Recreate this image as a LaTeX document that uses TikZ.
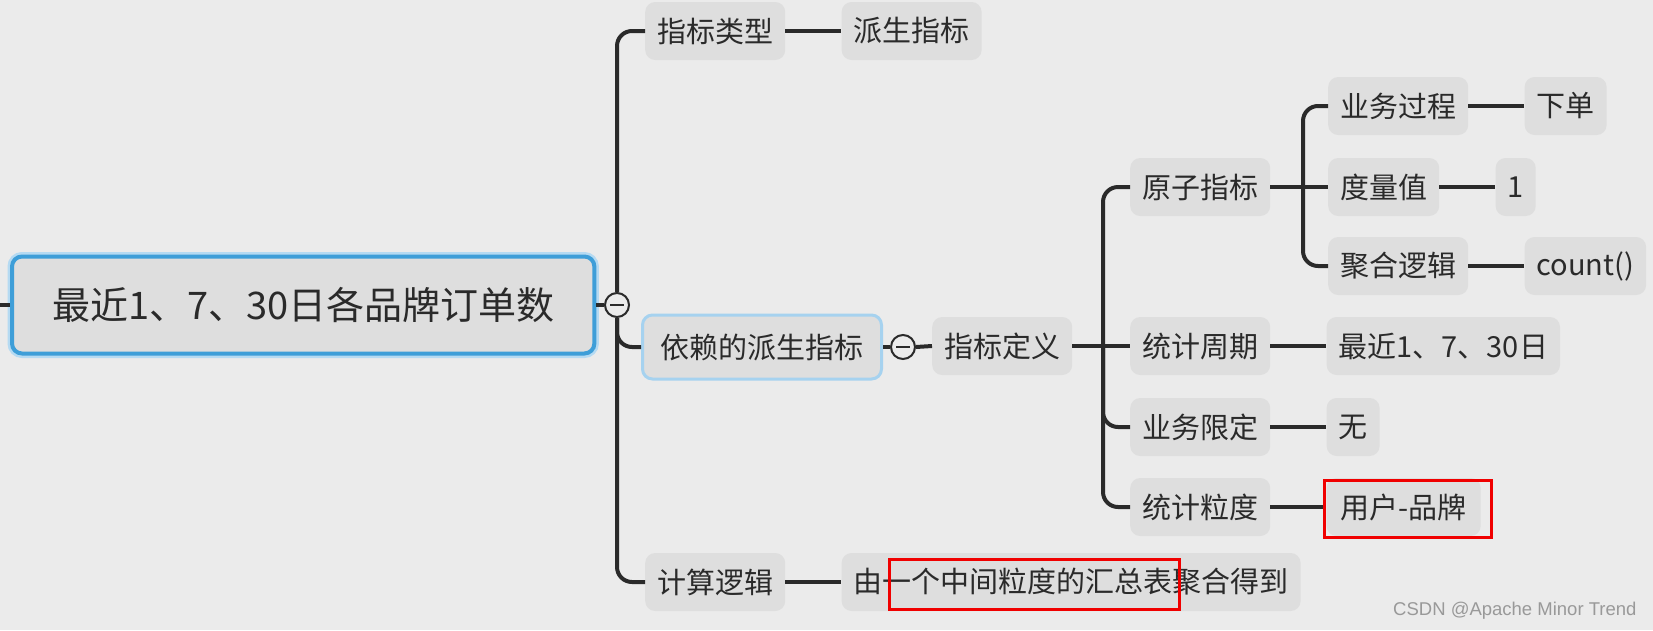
\documentclass[tikz,border=0pt]{standalone}
\usepackage{fontspec}
\newfontfamily\cjk{Noto Sans CJK SC}
\setsansfont{Liberation Sans}
\usetikzlibrary{positioning}
\definecolor{bggray}{HTML}{EBEBEB}
\definecolor{boxgray}{HTML}{DEDEDE}
\definecolor{ink}{HTML}{2A2A2A}
\definecolor{selblue}{HTML}{3E9ED8}
\definecolor{glowblue}{HTML}{B5DAF2}
\definecolor{paleblue}{HTML}{A6D2EF}
\definecolor{markred}{HTML}{F00000}
\begin{document}
\begin{tikzpicture}[x=1pt,y=-1pt,
    topic/.style={fill=boxgray, rounded corners=10pt, text=ink, anchor=west,
        font=\cjk\fontsize{29}{29}\selectfont, minimum height=58pt, inner xsep=12pt},
    branch/.style={line width=4pt, draw=ink, rounded corners=15pt},
    fold/.style={circle, draw=ink, line width=2pt, fill=bggray, minimum size=24pt, inner sep=0pt},
    node distance=56pt]
    \fill[bggray] (0,0) rectangle (1653,630);
    \useasboundingbox (0,0) rectangle (1653,630);

    % root topic
    \node[topic, font=\cjk\fontsize{38}{38}\selectfont, minimum height=97pt, inner xsep=40pt,
        draw=selblue, line width=4pt, preaction={draw=glowblue, line width=9pt}]
        (root) at (10,305) {最近1、7、30日各品牌订单数};
    \coordinate (stub) at (0,305);
    \draw[line width=4pt, ink] (stub) -- (root.west);

    \node[fold] (f1) at (617,305) {};
    \draw[line width=2pt, ink] ([xshift=-7pt]f1.center) -- ([xshift=7pt]f1.center);
    \draw[line width=4pt, ink] (root.east) -- (f1.west);

    % first level
    \node[topic] (kind) at (645,31) {指标类型};
    \node[topic, right=of kind] (kindv) {派生指标};
    \node[topic, draw=paleblue, line width=3pt, minimum height=64pt, inner xsep=18pt]
        (dep) at (641,347) {依赖的派生指标};
    \node[topic] (calc) at (645,582) {计算逻辑};
    \node[topic, right=of calc] (calcv) {由一个中间粒度的汇总表聚合得到};

    \draw[branch] (f1.north) |- (kind.west);
    \draw[branch] (f1.south) |- (dep.west);
    \draw[branch] (f1.south) |- (calc.west);
    \draw[line width=4pt, ink] (kind.east) -- (kindv.west);
    \draw[line width=4pt, ink] (calc.east) -- (calcv.west);

    % definition
    \node[fold] (f2) at (903,347) {};
    \draw[line width=2pt, ink] ([xshift=-7pt]f2.center) -- ([xshift=7pt]f2.center);
    \draw[line width=4pt, ink] (dep.east) -- (f2.west);
    \node[topic] (def) at (932,346) {指标定义};
    \draw[line width=4pt, ink] (f2.east) -- (def.west);

    \node[topic] (atom) at (1130,187) {原子指标};
    \node[topic] (period) at (1130,346) {统计周期};
    \node[topic] (limit) at (1130,427) {业务限定};
    \node[topic] (grain) at (1130,507) {统计粒度};
    \coordinate (t2) at (1103,346);
    \draw[line width=4pt, ink] (def.east) -- (period.west);
    \draw[branch] (t2) |- (atom.west);
    \draw[branch] (t2) |- (limit.west);
    \draw[branch] (t2) |- (grain.west);

    \node[topic, right=of period] (periodv) {最近1、7、30日};
    \node[topic, right=of limit] (limitv) {无};
    \node[topic, right=of grain, inner xsep=14pt] (grainv) {用户-品牌};
    \draw[line width=4pt, ink] (period.east) -- (periodv.west);
    \draw[line width=4pt, ink] (limit.east) -- (limitv.west);
    \draw[line width=4pt, ink] (grain.east) -- (grainv.west);

    % atomic metric
    \node[topic] (proc) at (1328,106) {业务过程};
    \node[topic] (meas) at (1328,187) {度量值};
    \node[topic] (agg) at (1328,266) {聚合逻辑};
    \coordinate (t3) at (1303,187);
    \draw[line width=4pt, ink] (atom.east) -- (meas.west);
    \draw[branch] (t3) |- (proc.west);
    \draw[branch] (t3) |- (agg.west);

    \node[topic, right=of proc] (procv) {下单};
    \node[topic, right=of meas] (measv) {1};
    \node[topic, right=of agg] (aggv) {count()};
    \draw[line width=4pt, ink] (proc.east) -- (procv.west);
    \draw[line width=4pt, ink] (meas.east) -- (measv.west);
    \draw[line width=4pt, ink] (agg.east) -- (aggv.west);

    % red marks
    \draw[markred, line width=3pt] (1324,480) rectangle (1491,537);
    \draw[markred, line width=3pt] (889,559) rectangle (1179,609);

    \node[anchor=east, text=gray!80, font=\sffamily\fontsize{18.5}{18.5}\selectfont]
        (mark) at (1640,611) {CSDN @Apache Minor Trend};
\end{tikzpicture}
\end{document}
